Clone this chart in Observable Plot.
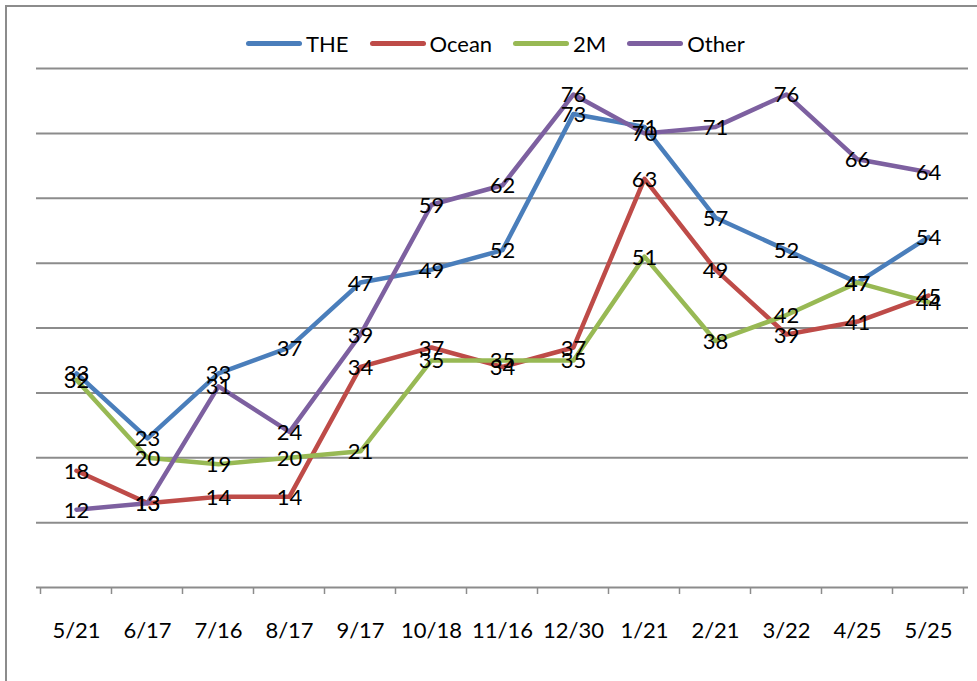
<!DOCTYPE html>
<html>
<head>
<meta charset="utf-8">
<script src="https://cdn.jsdelivr.net/npm/d3@7"></script>
<script src="https://cdn.jsdelivr.net/npm/@observablehq/plot@0.6"></script>
<style>
  html, body { margin: 0; padding: 0; background: #fff; overflow: hidden; }
  #wrap { position: relative; width: 977px; height: 681px; overflow: hidden; font-family: Lato, "Liberation Sans", sans-serif; }
  #frame { position: absolute; left: 5px; top: 5px; width: 1200px; height: 900px; border: 2px solid #8c8c8c; box-sizing: border-box; pointer-events: none; }
  #legend { position: relative; height: 56px; }
  #legend .items { position: absolute; left: 246px; top: 30px; display: flex; align-items: center; font-size: 22px; color: #000; }
  #legend .item { display: flex; align-items: center; margin-right: 21px; }
  #legend .sw { width: 56px; height: 5px; border-radius: 3px; margin-right: 4px; }
  #chart svg { display: block; }
</style>
</head>
<body>
<div id="wrap">
  <div id="frame"></div>
  <div id="legend"><div class="items"></div></div>
  <div id="chart"></div>
</div>
<script>
const dates = ["5/21","6/17","7/16","8/17","9/17","10/18","11/16","12/30","1/21","2/21","3/22","4/25","5/25"];
const seriesNames = ["THE","Ocean","2M","Other"];
const seriesColors = ["#4a7ebb","#be4b48","#98b954","#7d60a0"];
const theValues   = [33,23,33,37,47,49,52,73,71,57,52,47,54];
const oceanValues = [18,13,14,14,34,37,34,37,63,49,39,41,45];
const twoMValues  = [32,20,19,20,21,35,35,35,51,38,42,47,44];
const otherValues = [12,13,31,24,39,59,62,76,70,71,76,66,64];
const gridValues  = [0,10,20,30,40,50,60,70,80];

const valueLists = [theValues, oceanValues, twoMValues, otherValues];
const rows = [];
seriesNames.forEach((s, i) => {
  valueLists[i].forEach((v, j) => rows.push({series: s, date: dates[j], value: v}));
});

// legend
const items = document.querySelector("#legend .items");
seriesNames.forEach((s, i) => {
  const it = document.createElement("div");
  it.className = "item";
  const sw = document.createElement("span");
  sw.className = "sw";
  sw.style.background = seriesColors[i];
  const t = document.createElement("span");
  t.textContent = s;
  it.appendChild(sw); it.appendChild(t);
  items.appendChild(it);
});

// category boundary ticks below the axis
function boundaryTicks(index, scales, values, dimensions) {
  const x = scales.x, y = scales.y;
  const xs = dates.map(d => x(d));
  const step = xs[1] - xs[0];
  const bounds = xs.map(v => v - step / 2).concat([xs[xs.length - 1] + step / 2]);
  const y0 = y(0);
  const g = d3.create("svg:g");
  g.selectAll("line").data(bounds).join("line")
    .attr("x1", d => d).attr("x2", d => d)
    .attr("y1", y0).attr("y2", y0 + 7)
    .attr("stroke", "#8c8c8c").attr("stroke-width", 1.5);
  return g.node();
}

const chart = Plot.plot({
  width: 977,
  height: 625,
  marginTop: 12,
  marginBottom: 94,
  marginLeft: 36,
  marginRight: 9,
  x: {type: "point", domain: dates, padding: 0.5, label: null},
  y: {domain: [0, 80], axis: null},
  color: {domain: seriesNames, range: seriesColors},
  style: {fontFamily: "Lato, 'Liberation Sans', sans-serif", fontSize: "22px", background: "transparent", color: "#000"},
  marks: [
    Plot.ruleY(gridValues, {stroke: "#8c8c8c", strokeWidth: 2}),
    boundaryTicks,
    Plot.axisX({tickSize: 0, tickPadding: 35, fontSize: 22, label: null}),
    Plot.line(rows, {x: "date", y: "value", z: "series", stroke: "series", strokeWidth: 4.5, strokeLinejoin: "round", strokeLinecap: "round"}),
    Plot.text(rows, {x: "date", y: "value", text: d => String(d.value), fill: "#000", fontSize: 22, dy: 1})
  ]
});
document.getElementById("chart").appendChild(chart);
</script>
</body>
</html>
